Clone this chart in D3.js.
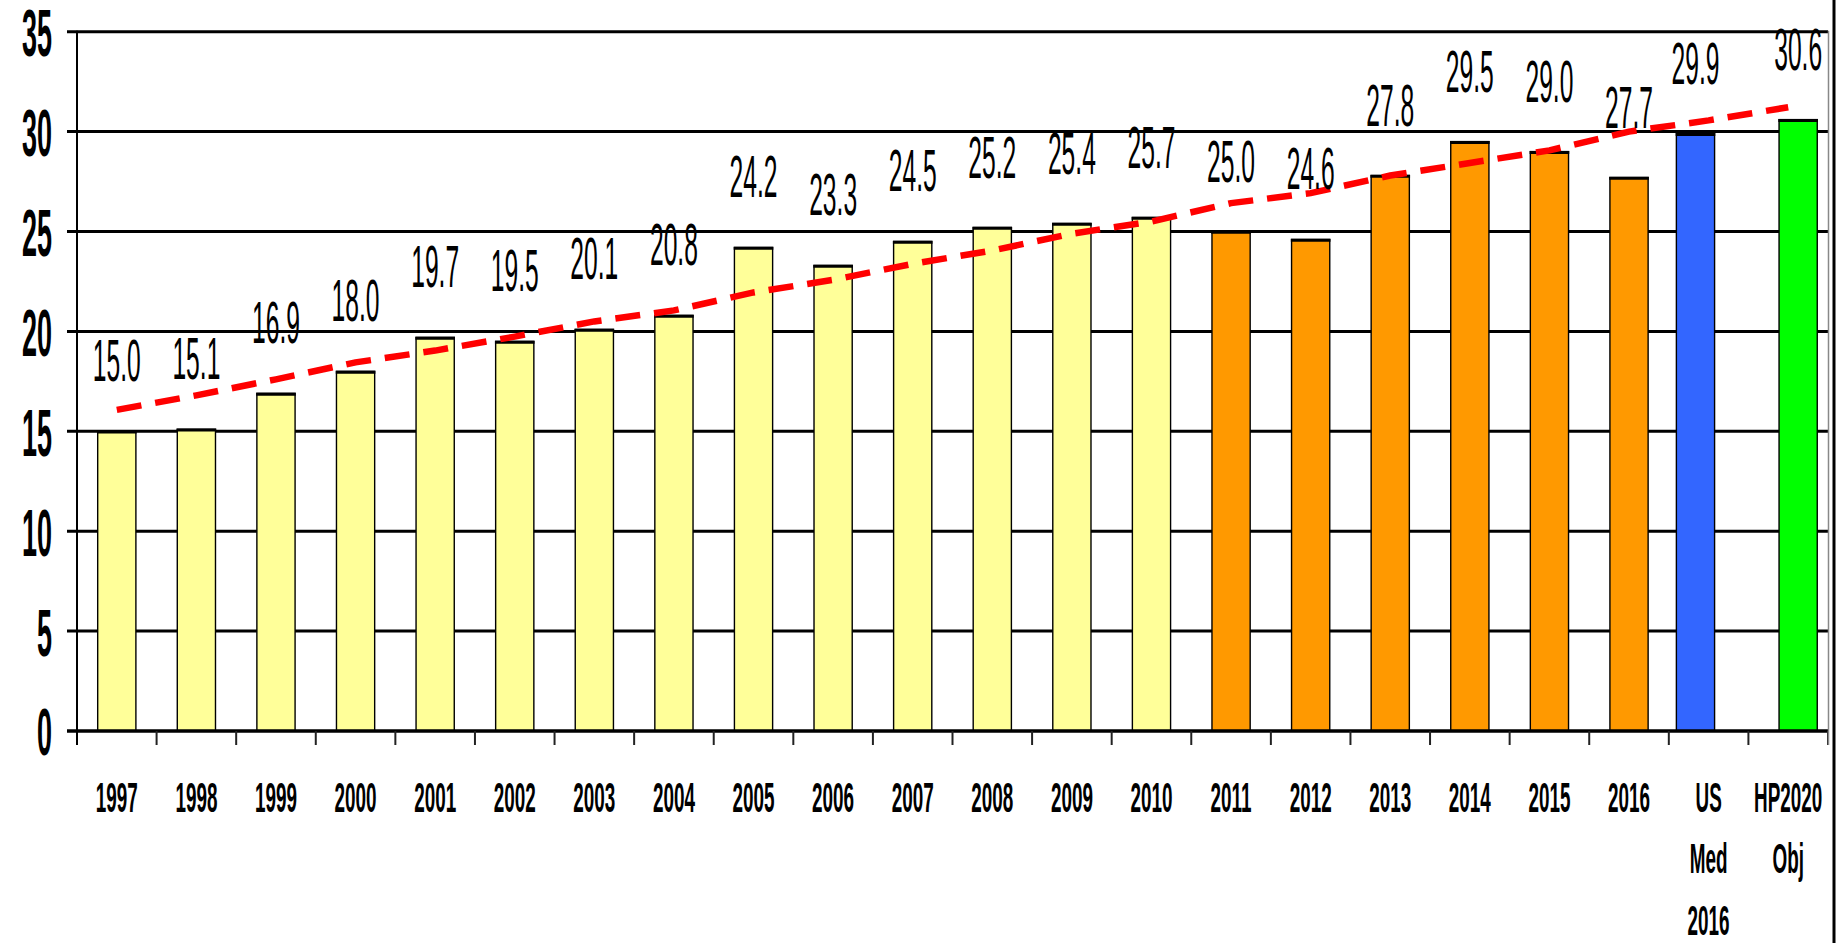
<!DOCTYPE html>
<html><head><meta charset="utf-8">
<script src="https://cdn.jsdelivr.net/npm/d3@7"></script>
<style>body{margin:0;background:#fff} svg{display:block;background:#fff}</style>
</head><body><svg id="c" width="1843" height="943"></svg>
<script>
// ---------------- data ----------------
const categories = ["1997","1998","1999","2000","2001","2002","2003","2004","2005","2006",
  "2007","2008","2009","2010","2011","2012","2013","2014","2015","2016","US Med 2016","HP2020 Obj"];
const tickLines = [["1997"],["1998"],["1999"],["2000"],["2001"],["2002"],["2003"],["2004"],["2005"],["2006"],
  ["2007"],["2008"],["2009"],["2010"],["2011"],["2012"],["2013"],["2014"],["2015"],["2016"],["US","Med","2016"],["HP2020","Obj"]];
const values = [15.0,15.1,16.9,18.0,19.7,19.5,20.1,20.8,24.2,23.3,24.5,25.2,25.4,25.7,25.0,24.6,27.8,29.5,29.0,27.7,29.9,30.6];
const trend  = [16.07,16.8,17.6,18.45,19.04,19.74,20.5,21.05,21.95,22.58,23.38,24.05,24.89,25.5,26.42,26.92,27.8,28.43,29.06,30.0,30.56,31.22];
const groups = ["old","old","old","old","old","old","old","old","old","old","old","old","old","old",
  "new","new","new","new","new","new","us","hp"];
const yTicks = [0,5,10,15,20,25,30,35];

// ---------------- layout / style ----------------
const svg = d3.select("#c");
const pLeft = 77, pRight = 1828, pTop = 31.7, pBottom = 731;
const FONT = "'Liberation Sans Narrow','Arial Narrow','Liberation Sans',Arial,sans-serif";
const x = d3.scaleBand().domain(categories).range([pLeft, pRight]).padding(0);
const y = d3.scaleLinear().domain([0, 35]).range([pBottom, pTop]);
const bw = x.bandwidth();
const barW = bw * 0.48;
const color = d3.scaleOrdinal().domain(["old","new","us","hp"]).range(["#FFFF99","#FF9900","#3366FF","#00FF00"]);
const shift = {old: 0, new: 0, us: -0.165, hp: 0.125};

function digitWidth(size, weight) {
  const t = svg.append("text").attr("font-family", FONT).attr("font-size", size)
    .attr("font-weight", weight).text("0000000000");
  const w = t.node().getComputedTextLength() / 10;
  t.remove();
  return w;
}
const valSize = 60, valSx = 13.7 / digitWidth(valSize, "normal");
const xSize = 43.3, xSx = 10.5 / digitWidth(xSize, "bold");
const ySize = 67, ySx = 15 / digitWidth(ySize, "bold");

// gridlines
svg.append("g").selectAll("line").data(yTicks.filter(t => t > 0)).join("line")
  .attr("x1", pLeft - 10).attr("x2", pRight)
  .attr("y1", d => y(d)).attr("y2", d => y(d))
  .attr("stroke", "#000").attr("stroke-width", 3);

// bars
const bars = svg.append("g");
const bx = (d, i) => x(categories[i]) + bw / 2 + shift[groups[i]] * bw - barW / 2;
bars.selectAll("rect").data(values).join("rect")
  .attr("x", bx).attr("width", barW)
  .attr("y", d => y(d)).attr("height", d => y(0) - y(d))
  .attr("fill", (d, i) => color(groups[i]))
  .attr("stroke", "#000").attr("stroke-width", 1.4);
bars.selectAll("line").data(values).join("line")
  .attr("x1", (d, i) => bx(d, i) - 0.7).attr("x2", (d, i) => bx(d, i) + barW + 0.7)
  .attr("y1", d => y(d) + 0.8).attr("y2", d => y(d) + 0.8)
  .attr("stroke", "#000").attr("stroke-width", 3);

// x axis baseline and ticks
svg.append("line").attr("x1", pLeft - 10).attr("x2", pRight)
  .attr("y1", y(0)).attr("y2", y(0)).attr("stroke", "#000").attr("stroke-width", 3.5);
const bounds = categories.map(c => x(c)).concat([pRight]);
svg.append("g").selectAll("line").data(bounds).join("line")
  .attr("x1", d => d).attr("x2", d => d)
  .attr("y1", y(0)).attr("y2", y(0) + 14)
  .attr("stroke", "#222").attr("stroke-width", 2);

// y axis line
svg.append("line").attr("x1", pLeft).attr("x2", pLeft)
  .attr("y1", pTop - 1).attr("y2", y(0) + 14).attr("stroke", "#000").attr("stroke-width", 2);
// plot area right border
svg.append("line").attr("x1", pRight + 0.5).attr("x2", pRight + 0.5)
  .attr("y1", pTop - 1).attr("y2", y(0) + 14).attr("stroke", "#888").attr("stroke-width", 1.5);
// outer right frame line
svg.append("line").attr("x1", 1834).attr("x2", 1834)
  .attr("y1", 0).attr("y2", 943).attr("stroke", "#000").attr("stroke-width", 3);

// y axis labels
const yAxis = svg.append("g").attr("transform", `translate(${pLeft},0)`)
  .call(d3.axisLeft(y).tickValues(yTicks).tickSize(0).tickPadding(0));
yAxis.select(".domain").remove();
yAxis.selectAll("text")
  .attr("x", 0).attr("dy", null)
  .attr("transform", `translate(${52 - pLeft},${ySize * 0.716 / 2}) scale(${ySx},1)`)
  .attr("font-family", FONT).attr("font-size", ySize).attr("font-weight", "bold")
  .attr("fill", "#000").attr("text-anchor", "end");

// x axis labels (multi-line)
const xAxis = svg.append("g").attr("transform", `translate(0,${y(0)})`)
  .call(d3.axisBottom(x).tickSize(0).tickPadding(0));
xAxis.select(".domain").remove();
xAxis.selectAll("text").each(function(d, i) {
  const t = d3.select(this);
  t.text(null).attr("y", 0).attr("dy", null)
    .attr("transform", `translate(0,${812 - 731}) scale(${xSx},1)`)
    .attr("font-family", FONT).attr("font-size", xSize).attr("font-weight", "bold")
    .attr("fill", "#000").attr("text-anchor", "middle");
  tickLines[i].forEach((ln, k) => {
    t.append("tspan").attr("x", 0).attr("y", k * 61.5).text(ln);
  });
});

// trend line
svg.append("path").datum(trend)
  .attr("d", d3.line().x((d, i) => x(categories[i]) + bw / 2).y(d => y(d)))
  .attr("fill", "none").attr("stroke", "#FF0000").attr("stroke-width", 6.5)
  .attr("stroke-dasharray", "25,14");

// value labels
svg.append("g").selectAll("text").data(values).join("text")
  .attr("transform", (d, i) => `translate(${x(categories[i]) + bw / 2 + shift[groups[i]] * bw},${y(d) - 50}) scale(${valSx},1)`)
  .attr("text-anchor", "middle")
  .attr("font-family", FONT).attr("font-size", valSize).attr("fill", "#000")
  .text(d => d3.format(".1f")(d));
</script>
</body></html>
